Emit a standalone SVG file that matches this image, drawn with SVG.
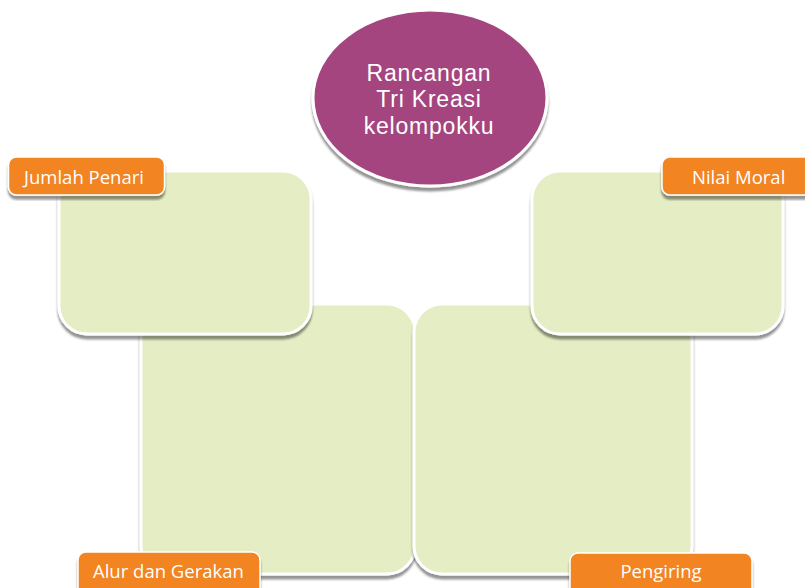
<svg xmlns="http://www.w3.org/2000/svg" width="805" height="588" viewBox="0 0 805 588">
<defs>
<filter id="sh" x="-10%" y="-10%" width="120%" height="125%">
<feDropShadow dx="0" dy="4" stdDeviation="0.8" flood-color="#000" flood-opacity="0.42"/>
</filter>
<style>
.box{fill:#e4edc3;stroke:#fff;stroke-width:3;filter:url(#sh)}
.lab{fill:#f28424;stroke:#fff;stroke-width:1.5;filter:url(#sh)}
.lt{font-family:"Open Sans","Noto Sans",sans-serif;font-size:18.5px;fill:#fff}
.tt{font-family:"Liberation Sans",Arial,sans-serif;font-size:23px;letter-spacing:0.8px;fill:#fff;text-anchor:middle}
</style>
</defs>
<rect width="805" height="588" fill="#fff"/>
<g id="center">
<ellipse cx="430" cy="98" rx="117" ry="88" fill="#a4457f" stroke="#fff" stroke-width="3" filter="url(#sh)"/>
<text class="tt" x="429" y="80.5">Rancangan</text>
<text class="tt" x="429" y="107">Tri Kreasi</text>
<text class="tt" x="429" y="133.5">kelompokku</text>
</g>
<g id="connectors"></g>
<g id="box-alur">
<rect class="box" x="141" y="304" width="274" height="270" rx="28"/>
</g>
<g id="box-pengiring">
<rect class="box" x="414" y="304" width="278" height="270" rx="28"/>
</g>
<g id="box-jumlah">
<rect class="box" x="59" y="171" width="252" height="163" rx="28"/>
</g>
<g id="box-nilai">
<rect class="box" x="532" y="171" width="251" height="163" rx="28"/>
</g>
<g id="label-jumlah">
<rect class="lab" x="8.5" y="157" width="156" height="38" rx="8"/>
<text class="lt" x="24" y="184">Jumlah Penari</text>
</g>
<g id="label-nilai">
<rect class="lab" x="662" y="157" width="160" height="38" rx="8"/>
<text class="lt" x="692" y="184">Nilai Moral</text>
</g>
<g id="label-alur">
<rect class="lab" x="78" y="552" width="182" height="50" rx="8"/>
<text class="lt" x="93" y="578">Alur dan Gerakan</text>
</g>
<g id="label-pengiring">
<rect class="lab" x="570" y="553" width="182" height="50" rx="8"/>
<text class="lt" x="661" y="578" text-anchor="middle">Pengiring</text>
</g>
</svg>
